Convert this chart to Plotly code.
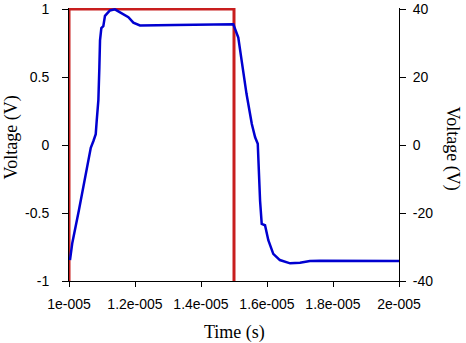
import plotly.graph_objects as go

# Red input pulse (left axis, V)
red_t = [1.0e-5, 1.0e-5, 1.5e-5, 1.5e-5]
red_v = [-1, 1, 1, -1]

# Blue response (left axis, V)
blue_t = [1.003e-5, 1.010e-5, 1.030e-5, 1.054e-5, 1.066e-5, 1.074e-5, 1.081e-5, 1.084e-5,
          1.089e-5, 1.092e-5, 1.094e-5, 1.098e-5, 1.104e-5, 1.109e-5, 1.124e-5, 1.139e-5,
          1.160e-5, 1.180e-5, 1.195e-5, 1.215e-5, 1.321e-5, 1.498e-5, 1.513e-5, 1.523e-5,
          1.538e-5, 1.554e-5, 1.564e-5, 1.572e-5, 1.576e-5, 1.579e-5, 1.584e-5, 1.594e-5,
          1.604e-5, 1.619e-5, 1.639e-5, 1.670e-5, 1.700e-5, 1.730e-5, 1.761e-5, 2.0e-5]
blue_v = [-0.846, -0.72, -0.48, -0.19, -0.02, 0.03, 0.08, 0.18,
          0.33, 0.57, 0.77, 0.86, 0.875, 0.95, 0.99, 0.998,
          0.97, 0.94, 0.90, 0.88, 0.883, 0.888, 0.79, 0.62,
          0.375, 0.155, 0.057, 0.009, -0.26, -0.41, -0.58, -0.59,
          -0.70, -0.80, -0.846, -0.87, -0.866, -0.853, -0.851, -0.853]

x_ticks = [1.0e-5, 1.2e-5, 1.4e-5, 1.6e-5, 1.8e-5, 2.0e-5]
x_labels = ["1e-005", "1.2e-005", "1.4e-005", "1.6e-005", "1.8e-005", "2e-005"]
y_ticks = [-1, -0.5, 0, 0.5, 1]
y_labels = ["-1", "-0.5", "0", "0.5", "1"]
y2_ticks = [-40, -20, 0, 20, 40]
y2_labels = ["-40", "-20", "0", "20", "40"]

fig = go.Figure()
fig.add_trace(go.Scatter(x=red_t, y=red_v, mode="lines",
                         line=dict(color="#c81e1e", width=3), showlegend=False))
fig.add_trace(go.Scatter(x=blue_t, y=blue_v, mode="lines",
                         line=dict(color="#0000d0", width=2.5), showlegend=False))
fig.add_trace(go.Scatter(x=[x_ticks[0]], y=[0], yaxis="y2", mode="lines",
                         line=dict(width=0), showlegend=False, hoverinfo="skip"))

tickfont = dict(family="Liberation Sans", size=14, color="black")
titlefont = dict(family="Liberation Serif", size=18, color="black")
fig.update_layout(
    width=466, height=343,
    margin=dict(l=69, r=67, t=8, b=62, autoexpand=False),
    paper_bgcolor="white", plot_bgcolor="white",
    xaxis=dict(range=[1.0e-5, 2.0e-5], tickvals=x_ticks, ticktext=x_labels,
               showgrid=False, zeroline=False, showline=True, linecolor="black",
               linewidth=1, ticks="outside", ticklen=5, tickcolor="black",
               tickfont=tickfont, ticklabelstandoff=5, automargin=False),
    yaxis=dict(range=[-1, 1.008], tickvals=y_ticks, ticktext=y_labels,
               showgrid=False, zeroline=False, showline=True, linecolor="black",
               linewidth=1, ticks="outside", ticklen=6, tickcolor="black",
               tickfont=tickfont, ticklabelstandoff=10, automargin=False,
               layer="below traces"),
    yaxis2=dict(range=[-40, 40.32], tickvals=y2_ticks, ticktext=y2_labels,
                overlaying="y", side="right",
                showgrid=False, zeroline=False, showline=True, linecolor="black",
                linewidth=1, ticks="outside", ticklen=6, tickcolor="black",
                tickfont=tickfont, ticklabelstandoff=4, automargin=False),
    annotations=[
        dict(text="Time (s)", xref="paper", yref="paper", x=0.5, y=0,
             yshift=-51, xanchor="center", yanchor="middle", showarrow=False,
             font=titlefont),
        dict(text="Voltage (V)", xref="paper", yref="paper", x=0, xshift=-58,
             y=0.5, yshift=7, textangle=-90, xanchor="center", yanchor="middle",
             showarrow=False, font=titlefont),
        dict(text="Voltage (V)", xref="paper", yref="paper", x=1, xshift=53,
             y=0.5, yshift=-4, textangle=90, xanchor="center", yanchor="middle",
             showarrow=False, font=titlefont),
    ],
)

fig.write_html("out.html", config={"displayModeBar": False},
               post_script="document.body.style.margin='0';")
